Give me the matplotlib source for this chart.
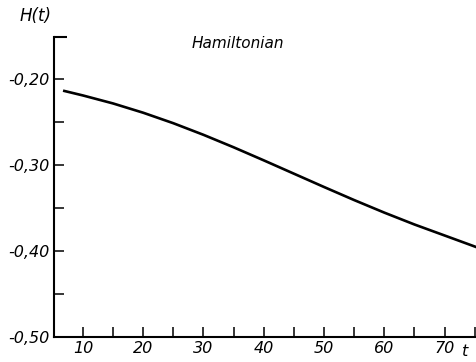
import matplotlib.pyplot as plt
import numpy as np

# values
t = [6.7, 10, 15, 20, 25, 30, 35, 40, 45, 50, 55, 60, 65, 70, 75.3]
H = [-0.2134, -0.2190, -0.2283, -0.2391, -0.2513, -0.2648, -0.2793, -0.2945,
     -0.3100, -0.3255, -0.3407, -0.3553, -0.3691, -0.3819, -0.3955]

x_ticks = [10, 15, 20, 25, 30, 35, 40, 45, 50, 55, 60, 65, 70, 75]
x_labels = ['10', '', '20', '', '30', '', '40', '', '50', '', '60', '', '70', '']
y_ticks = [-0.50, -0.45, -0.40, -0.35, -0.30, -0.25, -0.20]
y_labels = ['-0,50', '', '-0,40', '', '-0,30', '', '-0,20']

font = dict(family=['Liberation Sans Narrow', 'DejaVu Sans'], style='italic')

fig = plt.figure(figsize=(4.77, 3.62), dpi=100)
ax = fig.add_axes([54 / 477, 1 - 337 / 362, 1 - 54 / 477 - 0.001, 300 / 362])

ax.plot(t, H, color='black', lw=1.9, solid_capstyle='butt', solid_joinstyle='round')

ax.set_xlim(5.2, 75.3)
ax.set_ylim(-0.50, -0.151)

for s in ['top', 'right']:
    ax.spines[s].set_visible(False)
for s in ['left', 'bottom']:
    ax.spines[s].set_linewidth(1.5)

ax.set_xticks(x_ticks)
ax.set_xticklabels(x_labels, fontsize=11.5, **font)
ax.set_yticks(y_ticks)
ax.set_yticklabels(y_labels, fontsize=11.5, **font)
ax.tick_params(direction='in', length=7, width=1.1, pad=3)

# small cap at top of y axis
ax.plot([0, 0.03], [1, 1], transform=ax.transAxes, color='black', lw=1.5,
        clip_on=False, solid_capstyle='butt')

fig.text(20 / 477, 1 - 16 / 362, 'H(t)', fontsize=12, va='center', ha='left', **font)
fig.text(462 / 477, 1 - 352 / 362, 't', fontsize=11.5, va='center', ha='left', **font)
fig.text(238 / 477, 1 - 44 / 362, 'Hamiltonian', fontsize=11, va='center', ha='center', **font)

fig.savefig('out.png', dpi=100)
